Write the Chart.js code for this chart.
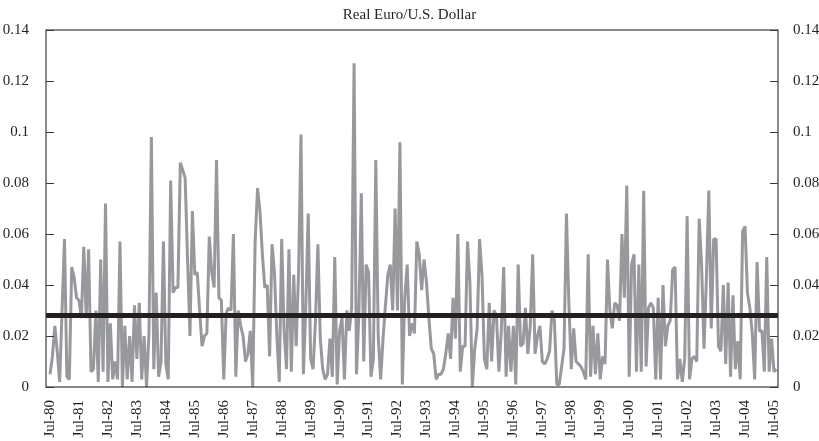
<!DOCTYPE html>
<html>
<head>
<meta charset="utf-8">
<title>Real Euro/U.S. Dollar</title>
<script src="https://cdn.jsdelivr.net/npm/chart.js@4.4.1/dist/chart.umd.min.js"></script>
<style>
  body { margin: 0; background: #fff; }
</style>
</head>
<body>
<canvas id="volChart" width="819" height="441"></canvas>
<script>
// monthly values, Jul-80 .. Aug-05
var volatility = [
  0.005, 0.012, 0.024, 0.014, 0.002, 0.030, 0.058, 0.004, 0.003, 0.047,
  0.043, 0.035, 0.034, 0.027, 0.055, 0.027, 0.054, 0.006, 0.007, 0.030,
  0.002, 0.050, 0.006, 0.072, 0.002, 0.025, 0.003, 0.010, 0.003, 0.057,
  0.000, 0.024, 0.003, 0.020, 0.002, 0.032, 0.011, 0.033, 0.003, 0.020,
  0.000, 0.021, 0.098, 0.007, 0.037, 0.004, 0.010, 0.057, 0.009, 0.003,
  0.081, 0.037, 0.039, 0.039, 0.088, 0.085, 0.082, 0.050, 0.020, 0.069,
  0.044, 0.045, 0.030, 0.016, 0.020, 0.021, 0.059, 0.045, 0.039, 0.089,
  0.035, 0.034, 0.003, 0.029, 0.031, 0.030, 0.060, 0.004, 0.030, 0.024,
  0.020, 0.010, 0.013, 0.022, 0.000, 0.057, 0.078, 0.069, 0.052, 0.039,
  0.040, 0.012, 0.056, 0.045, 0.020, 0.002, 0.058, 0.022, 0.007, 0.054,
  0.006, 0.044, 0.016, 0.045, 0.099, 0.005, 0.032, 0.068, 0.011, 0.007,
  0.026, 0.056, 0.019, 0.007, 0.003, 0.005, 0.019, 0.004, 0.051, 0.001,
  0.022, 0.027, 0.003, 0.030, 0.022, 0.031, 0.127, 0.005, 0.029, 0.076,
  0.010, 0.048, 0.045, 0.004, 0.011, 0.089, 0.020, 0.003, 0.019, 0.032,
  0.044, 0.048, 0.030, 0.070, 0.030, 0.096, 0.001, 0.035, 0.048, 0.020,
  0.025, 0.021, 0.057, 0.052, 0.038, 0.050, 0.041, 0.027, 0.015, 0.013,
  0.003, 0.005, 0.005, 0.007, 0.013, 0.021, 0.011, 0.035, 0.019, 0.060,
  0.006, 0.016, 0.016, 0.057, 0.041, 0.000, 0.015, 0.023, 0.058, 0.044,
  0.011, 0.007, 0.033, 0.010, 0.030, 0.028, 0.006, 0.022, 0.047, 0.004,
  0.024, 0.006, 0.024, 0.001, 0.048, 0.016, 0.017, 0.031, 0.013, 0.024,
  0.052, 0.013, 0.020, 0.024, 0.010, 0.009, 0.011, 0.014, 0.030, 0.026,
  0.001, 0.001, 0.008, 0.015, 0.068, 0.033, 0.007, 0.023, 0.010, 0.009,
  0.008, 0.006, 0.003, 0.052, 0.004, 0.024, 0.005, 0.021, 0.003, 0.012,
  0.009, 0.050, 0.030, 0.023, 0.033, 0.032, 0.026, 0.060, 0.035, 0.079,
  0.004, 0.048, 0.052, 0.006, 0.048, 0.006, 0.077, 0.008, 0.031, 0.033,
  0.031, 0.003, 0.035, 0.003, 0.040, 0.016, 0.024, 0.026, 0.046, 0.047,
  0.003, 0.011, 0.002, 0.011, 0.067, 0.003, 0.011, 0.012, 0.010, 0.066,
  0.048, 0.015, 0.043, 0.077, 0.023, 0.058, 0.058, 0.016, 0.014, 0.040,
  0.009, 0.041, 0.004, 0.036, 0.007, 0.018, 0.003, 0.061, 0.063, 0.037,
  0.031, 0.021, 0.003, 0.049, 0.022, 0.022, 0.006, 0.051, 0.006, 0.019,
  0.006, 0.007
];
var meanLevel = 0.028;
var xTickLabels = ['Jul-80','Jul-81','Jul-82','Jul-83','Jul-84','Jul-85','Jul-86','Jul-87','Jul-88',
  'Jul-89','Jul-90','Jul-91','Jul-92','Jul-93','Jul-94','Jul-95','Jul-96','Jul-97','Jul-98','Jul-99',
  'Jul-00','Jul-01','Jul-02','Jul-03','Jul-04','Jul-05'];
var yTickValues = [0, 0.02, 0.04, 0.06, 0.08, 0.1, 0.12, 0.14];
var yTickLabels = ['0', '0.02', '0.04', '0.06', '0.08', '0.1', '0.12', '0.14'];

var serif = "'Liberation Serif', 'DejaVu Serif', serif";
var inkColor = '#231f20';

// box round the plot and small inward ticks on both value axes
var framePlugin = {
  id: 'frame',
  afterDraw: function(chart) {
    var ctx = chart.ctx, a = chart.chartArea, y = chart.scales.y;
    ctx.save();
    ctx.strokeStyle = '#3a3a3a';
    ctx.lineWidth = 1.2;
    ctx.strokeRect(a.left, a.top, a.right - a.left, a.bottom - a.top);
    ctx.beginPath();
    yTickValues.forEach(function(v) {
      var py = Math.round(y.getPixelForValue(v)) + 0.5;
      ctx.moveTo(a.left, py); ctx.lineTo(a.left + 8, py);
      ctx.moveTo(a.right - 8, py); ctx.lineTo(a.right, py);
    });
    ctx.stroke();
    ctx.restore();
  }
};

// thick black line at the average level
var meanPlugin = {
  id: 'meanLine',
  afterDatasetsDraw: function(chart) {
    var ctx = chart.ctx, a = chart.chartArea;
    var py = chart.scales.y.getPixelForValue(meanLevel);
    ctx.save();
    ctx.strokeStyle = inkColor;
    ctx.lineWidth = 5;
    ctx.beginPath();
    ctx.moveTo(a.left, py); ctx.lineTo(a.right, py);
    ctx.stroke();
    ctx.restore();
  }
};

function valueAxis(pos, w) {
  return {
    position: pos,
    min: 0, max: 0.14,
    grid: { display: false },
    border: { display: false },
    afterBuildTicks: function(s) { s.ticks = yTickValues.map(function(v) { return { value: v }; }); },
    afterFit: function(s) { s.width = w; },
    ticks: {
      padding: pos === 'left' ? 9 : 7,
      color: inkColor,
      font: { family: serif, size: 15 },
      callback: function(v, i) { return yTickLabels[i]; }
    }
  };
}

var points = volatility.map(function(v, i) { return { x: i, y: v }; });

new Chart(document.getElementById('volChart'), {
  type: 'line',
  data: {
    datasets: [{
      data: points,
      borderColor: '#98999d',
      borderWidth: 3,
      borderJoinStyle: 'bevel',
      pointRadius: 0,
      tension: 0
    }]
  },
  options: {
    responsive: false,
    animation: false,
    layout: { padding: 0 },
    plugins: {
      legend: { display: false },
      tooltip: { enabled: false },
      title: {
        display: true,
        text: 'Real Euro/U.S. Dollar',
        color: inkColor,
        font: { family: serif, size: 15, weight: 'normal' },
        padding: { top: 6, bottom: 6 }
      }
    },
    scales: {
      x: {
        type: 'linear',
        min: -1.66, max: 301.66,
        grid: { display: false },
        border: { display: false },
        afterBuildTicks: function(s) { s.ticks = xTickLabels.map(function(l, k) { return { value: k * 12 }; }); },
        afterFit: function(s) { s.height = 54; },
        ticks: {
          autoSkip: false,
          minRotation: 90, maxRotation: 90,
          padding: 5,
          color: inkColor,
          font: { family: serif, size: 15 },
          callback: function(v, i) { return xTickLabels[i]; }
        }
      },
      y: valueAxis('left', 46),
      y2: valueAxis('right', 41)
    }
  },
  plugins: [meanPlugin, framePlugin]
});
</script>
</body>
</html>
